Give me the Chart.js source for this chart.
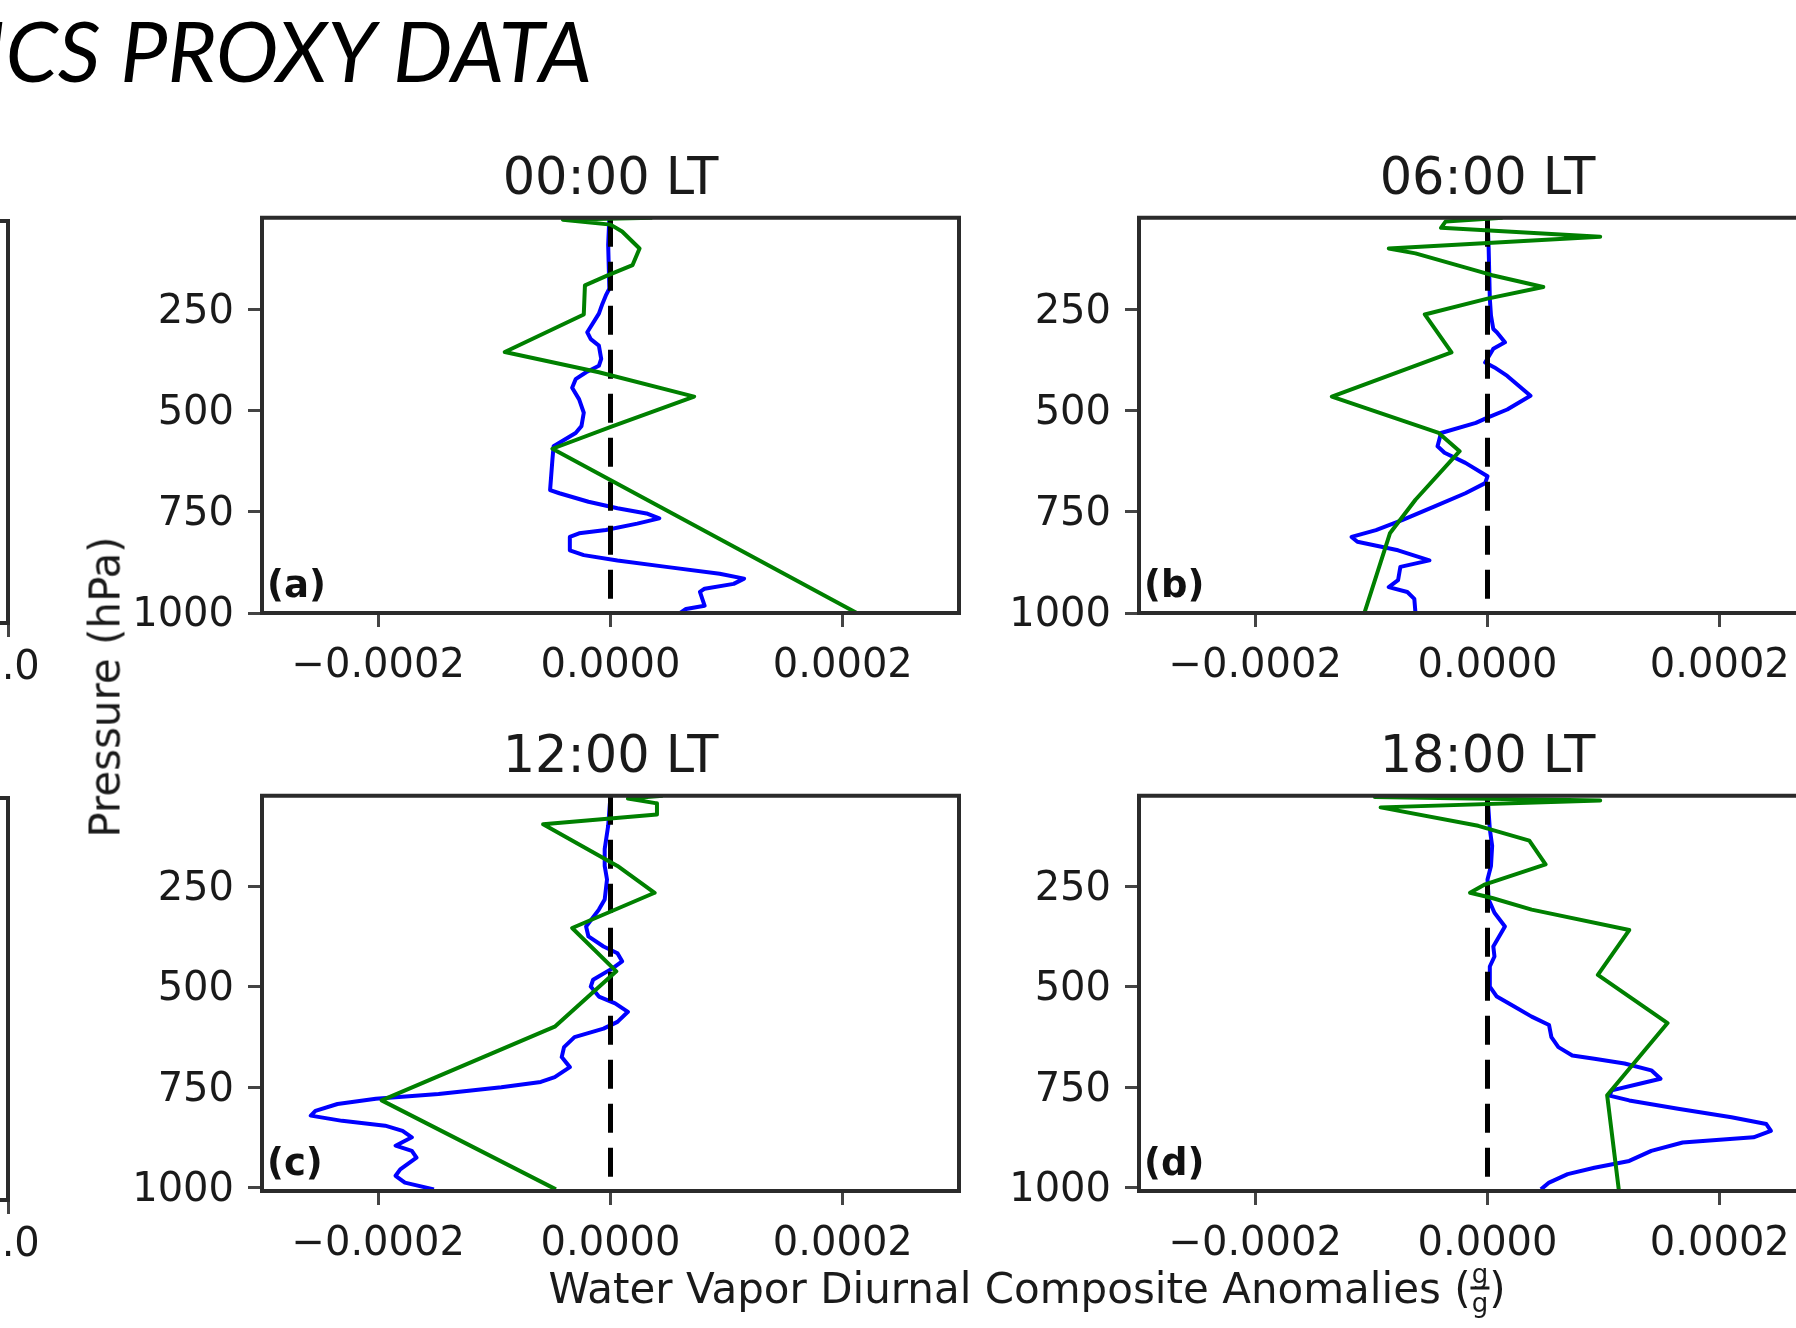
<!DOCTYPE html>
<html>
<head>
<meta charset="utf-8">
<script src="https://cdn.jsdelivr.net/npm/chart.js@4.4.0/dist/chart.umd.min.js"></script>
<style>
  html, body { margin: 0; padding: 0; width: 1796px; height: 1328px; overflow: hidden; background: #fff; }
  canvas { position: absolute; }
  #heading {
    position: absolute; left: -17px; top: 8px;
    font: italic 400 84px Lato, "Open Sans", sans-serif; line-height: 1;
    color: #000; white-space: nowrap;
  }
  #ylabel {
    position: absolute; left: 105px; top: 687px;
    font: 42px "DejaVu Sans"; color: #1a1a1a; white-space: nowrap;
    transform: translate(-50%, -50%) rotate(-90deg);
  }
  #xlabel {
    position: absolute; left: 1027px; top: 1291px;
    font: 42px "DejaVu Sans"; color: #1a1a1a; white-space: nowrap;
    transform: translate(-50%, -50%);
  }
  .frac { display: inline-block; vertical-align: middle; font-size: 26px; line-height: 1; text-align: center; position: relative; top: -3px; }
  .frac span { display: block; padding: 0 1px; }
  .frac .den { border-top: 3px solid #1a1a1a; }
</style>
</head>
<body>
<div id="heading">ICS PROXY DATA</div>

<canvas id="edgeTop" width="360" height="500"></canvas>
<canvas id="edgeBot" width="360" height="500"></canvas>
<canvas id="p00" width="887" height="557"></canvas>
<canvas id="p06" width="887" height="557"></canvas>
<canvas id="p12" width="887" height="557"></canvas>
<canvas id="p18" width="887" height="557"></canvas>

<div id="ylabel">Pressure (hPa)</div>
<div id="xlabel">Water Vapor Diurnal Composite Anomalies (<span class="frac"><span>g</span><span class="den">g</span></span>)</div>

<script>
// anomalies are in units of 1e-4 g/g, pressure in hPa
const xTickVals = [-2, 0, 2];
const xTickText = ['\u22120.0002', '0.0000', '0.0002'];
const pTickVals = [250, 500, 750, 1000];
const pTop = 23;

// 00:00 LT
const pBlue00 = [23, 90, 198, 215, 236, 260, 306, 323, 339, 372, 389, 405, 422, 443, 472, 505, 538, 555, 588, 621, 696, 704, 725, 741, 754, 766, 779, 795, 803, 812, 845, 857, 870, 886, 903, 915, 928, 940, 948, 982, 990, 1000];
const qBlue00 = [-0.01, -0.02, -0.01, -0.04, -0.07, -0.10, -0.20, -0.17, -0.10, -0.08, -0.10, -0.21, -0.30, -0.33, -0.27, -0.23, -0.25, -0.30, -0.49, -0.50, -0.52, -0.44, -0.19, 0.06, 0.31, 0.42, 0.23, -0.04, -0.27, -0.35, -0.35, -0.23, 0.06, 0.48, 0.94, 1.15, 1.06, 0.81, 0.77, 0.81, 0.65, 0.60];
const pGreen00 = [23, 28, 40, 57, 99, 140, 165, 190, 262, 355, 405, 465, 538, 594, 1000];
const qGreen00 = [0.36, -0.41, 0.0, 0.10, 0.25, 0.19, -0.02, -0.22, -0.23, -0.91, -0.10, 0.72, 0.02, -0.50, 2.12];

// 06:00 LT
const pBlue06 = [23, 99, 223, 265, 298, 306, 331, 347, 381, 393, 414, 463, 497, 517, 530, 555, 588, 604, 629, 662, 679, 704, 737, 770, 795, 812, 824, 845, 870, 886, 919, 936, 948, 965, 1000];
const qBlue06 = [0.0, 0.01, 0.02, 0.03, 0.05, 0.08, 0.15, 0.05, -0.02, 0.06, 0.17, 0.37, 0.17, 0.0, -0.10, -0.40, -0.43, -0.37, -0.19, 0.0, -0.02, -0.19, -0.46, -0.73, -0.96, -1.17, -1.12, -0.77, -0.50, -0.75, -0.77, -0.85, -0.69, -0.63, -0.62];
const pGreen06 = [23, 32, 48, 70, 99, 111, 165, 194, 223, 262, 356, 465, 555, 600, 720, 803, 1000];
const qGreen06 = [0.13, -0.36, -0.40, 0.97, -0.85, -0.62, 0.04, 0.48, 0.0, -0.54, -0.31, -1.34, -0.42, -0.24, -0.62, -0.84, -1.06];

// 12:00 LT
const pBlue12 = [23, 98, 156, 198, 232, 282, 307, 349, 374, 399, 416, 436, 453, 482, 499, 524, 541, 562, 587, 604, 625, 650, 675, 700, 725, 737, 750, 767, 779, 792, 809, 821, 834, 846, 859, 875, 896, 909, 926, 955, 971, 988, 1005];
const qBlue12 = [0.0, -0.02, -0.05, -0.05, -0.03, -0.05, -0.10, -0.21, -0.19, -0.06, 0.06, 0.10, 0.02, -0.15, -0.17, -0.10, 0.04, 0.15, 0.06, -0.06, -0.31, -0.40, -0.42, -0.35, -0.48, -0.60, -0.94, -1.48, -2.02, -2.35, -2.54, -2.58, -2.31, -1.94, -1.79, -1.71, -1.85, -1.71, -1.67, -1.81, -1.85, -1.77, -1.52];
const pGreen12 = [23, 30, 42, 70, 94, 198, 265, 353, 461, 599, 783, 1005];
const qGreen12 = [0.45, 0.15, 0.40, 0.40, -0.58, 0.06, 0.38, -0.33, 0.05, -0.48, -1.97, -0.47];

// 18:00 LT
const pBlue18 = [23, 106, 148, 198, 232, 282, 315, 349, 374, 399, 424, 449, 499, 524, 549, 574, 595, 625, 650, 671, 679, 691, 708, 729, 742, 758, 771, 783, 804, 825, 842, 859, 875, 888, 909, 934, 951, 967, 988, 1005];
const qBlue18 = [0.0, 0.02, 0.04, 0.03, 0.0, 0.01, 0.06, 0.15, 0.10, 0.05, 0.06, 0.02, 0.02, 0.08, 0.23, 0.38, 0.53, 0.55, 0.61, 0.73, 0.92, 1.18, 1.41, 1.49, 1.30, 1.07, 1.05, 1.22, 1.64, 2.10, 2.40, 2.44, 2.29, 1.68, 1.41, 1.22, 0.92, 0.69, 0.53, 0.46];
const pGreen18 = [23, 26, 35, 52, 98, 135, 194, 244, 265, 278, 307, 358, 470, 590, 770, 1005];
const qGreen18 = [0.0, -0.97, 0.97, -0.92, -0.08, 0.36, 0.50, -0.02, -0.15, 0.04, 0.38, 1.22, 0.95, 1.55, 1.03, 1.13];

// neighbouring figure's x axis, only its right end shows
const edgeTickVals = [1.0];
const edgeTickText = ['1.0'];

const BOX_W = 697, BOX_H = 395;
const INK = '#1a1a1a';
const tickFont = { family: 'DejaVu Sans', size: 40 };

function pts(levels, vals) {
  return levels.map((p, i) => ({ x: vals[i], y: p }));
}

// box around the axes, drawn over the lines like matplotlib spines
const frame = {
  id: 'frame',
  afterDatasetsDraw(chart) {
    const a = chart.chartArea, c = chart.ctx;
    c.save();
    c.strokeStyle = '#2b2b2b';
    c.lineWidth = 4;
    c.strokeRect(a.left, a.top, a.right - a.left, a.bottom - a.top);
    c.restore();
  }
};

const panelTag = {
  id: 'panelTag',
  afterDatasetsDraw(chart, args, opts) {
    if (!opts.text) return;
    const a = chart.chartArea, c = chart.ctx;
    c.save();
    c.fillStyle = '#111';
    c.font = 'bold 37px "DejaVu Sans"';
    c.textBaseline = 'alphabetic';
    c.fillText(opts.text, a.left + 5, a.bottom - 16);
    c.restore();
  }
};

function tickGrid() {
  return { drawOnChartArea: false, drawTicks: true, tickLength: 14, tickWidth: 3, tickColor: '#444' };
}

function panelConfig(title, tag, blue, green, pBottom) {
  return {
    type: 'scatter',
    data: {
      datasets: [
        { data: green, borderColor: '#008000', borderWidth: 4, showLine: true, pointRadius: 0, borderJoinStyle: 'round', order: 0 },
        { data: [{ x: 0, y: pTop }, { x: 0, y: pBottom }], borderColor: '#000', borderWidth: 5, borderDash: [29, 15], showLine: true, pointRadius: 0, order: 1 },
        { data: blue, borderColor: '#0000ff', borderWidth: 4, showLine: true, pointRadius: 0, borderJoinStyle: 'round', order: 2 }
      ]
    },
    options: {
      responsive: false, maintainAspectRatio: false, animation: false, devicePixelRatio: 1,
      layout: { padding: { left: 0, right: 20, top: 0, bottom: 0 } },
      plugins: {
        legend: { display: false },
        tooltip: { enabled: false },
        title: {
          display: true, text: title, color: INK, fullSize: false,
          font: { family: 'DejaVu Sans', size: 51, weight: 'normal', lineHeight: 1.25 },
          padding: { top: 10, bottom: 5 }
        },
        panelTag: { text: tag }
      },
      scales: {
        x: {
          type: 'linear', min: -3, max: 3,
          afterBuildTicks: s => { s.ticks = xTickVals.map(v => ({ value: v })); },
          afterFit: s => { s.height = 80; },
          ticks: { callback: v => xTickText[xTickVals.indexOf(v)], color: INK, font: tickFont, padding: 16, maxRotation: 0, autoSkip: false },
          grid: tickGrid(),
          border: { display: false }
        },
        y: {
          type: 'linear', reverse: true, min: pTop, max: pBottom,
          afterBuildTicks: s => { s.ticks = pTickVals.map(v => ({ value: v })); },
          afterFit: s => { s.width = 170; },
          ticks: { callback: v => String(v), color: INK, font: tickFont, padding: 14, labelOffset: 3, autoSkip: false },
          grid: tickGrid(),
          border: { display: false }
        }
      }
    },
    plugins: [frame, panelTag]
  };
}

function edgeConfig() {
  return {
    type: 'scatter',
    data: { datasets: [{ data: [] }] },
    options: {
      responsive: false, maintainAspectRatio: false, animation: false, devicePixelRatio: 1,
      layout: { padding: { left: 0, right: 50, top: 10, bottom: 0 } },
      plugins: { legend: { display: false }, tooltip: { enabled: false } },
      scales: {
        x: {
          type: 'linear', min: 0, max: 1,
          afterBuildTicks: s => { s.ticks = edgeTickVals.map(v => ({ value: v })); },
          afterFit: s => { s.height = 80; },
          ticks: { callback: v => edgeTickText[edgeTickVals.indexOf(v)], color: INK, font: tickFont, padding: 8, maxRotation: 0, autoSkip: false },
          grid: tickGrid(),
          border: { display: false }
        },
        y: { display: false, min: 0, max: 1 }
      }
    },
    plugins: [frame]
  };
}

// create the chart, then size and shift its canvas so the plot box sits at (left, top)
function mount(id, cfg, left, top, w, h) {
  const cv = document.getElementById(id);
  const chart = new Chart(cv, cfg);
  let a = chart.chartArea;
  const dw = w - (a.right - a.left), dh = h - (a.bottom - a.top);
  if (Math.abs(dw) > 0.1 || Math.abs(dh) > 0.1) {
    chart.resize(Math.round(cv.width + dw), Math.round(cv.height + dh));
    a = chart.chartArea;
  }
  cv.style.left = (left - a.left) + 'px';
  cv.style.top = (top - a.top) + 'px';
  return chart;
}

mount('edgeTop', edgeConfig(), 8 - 300, 221, 300, 402);
mount('edgeBot', edgeConfig(), 8 - 300, 798, 300, 402);

mount('p00', panelConfig('00:00 LT', '(a)', pts(pBlue00, qBlue00), pts(pGreen00, qGreen00), 1000), 262, 218, BOX_W, BOX_H);
mount('p06', panelConfig('06:00 LT', '(b)', pts(pBlue06, qBlue06), pts(pGreen06, qGreen06), 1000), 1139, 218, BOX_W, BOX_H);
mount('p12', panelConfig('12:00 LT', '(c)', pts(pBlue12, qBlue12), pts(pGreen12, qGreen12), 1009), 262, 796, BOX_W, BOX_H);
mount('p18', panelConfig('18:00 LT', '(d)', pts(pBlue18, qBlue18), pts(pGreen18, qGreen18), 1009), 1139, 796, BOX_W, BOX_H);
</script>
</body>
</html>
